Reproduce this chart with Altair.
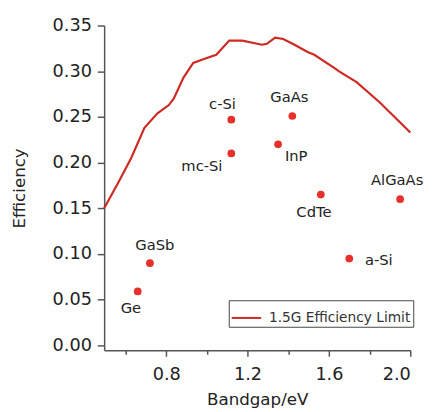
import altair as alt
import pandas as pd

# 1.5G efficiency limit curve
curve_bandgap = [0.495, 0.564, 0.628, 0.693, 0.757, 0.813, 0.837, 0.885, 0.933, 0.982,
                 1.046, 1.110, 1.174, 1.271, 1.295, 1.335, 1.375, 1.431, 1.495, 1.528,
                 1.624, 1.648, 1.736, 1.849, 2.000]
curve_eff = [0.150, 0.178, 0.205, 0.238, 0.254, 0.263, 0.270, 0.293, 0.309, 0.313,
             0.318, 0.3335, 0.3335, 0.329, 0.330, 0.3368, 0.3353, 0.329, 0.321, 0.318,
             0.304, 0.300, 0.288, 0.266, 0.233]
series_name = "1.5G Efficiency Limit"

# materials
materials = ["Ge", "GaSb", "c-Si", "mc-Si", "GaAs", "InP", "CdTe", "a-Si", "AlGaAs"]
mat_bandgap = [0.66, 0.72, 1.12, 1.12, 1.42, 1.35, 1.56, 1.70, 1.95]
mat_eff = [0.059, 0.090, 0.247, 0.210, 0.251, 0.220, 0.165, 0.095, 0.160]

y_ticks = [0.00, 0.05, 0.10, 0.15, 0.20, 0.25, 0.30, 0.35]
x_major = [0.8, 1.2, 1.6, 2.0]
x_minor = [0.6, 1.0, 1.4, 1.8]

curve_df = pd.DataFrame({"Bandgap": curve_bandgap, "Efficiency": curve_eff,
                         "series": series_name})
mat_df = pd.DataFrame({"Bandgap": mat_bandgap, "Efficiency": mat_eff,
                       "Material": materials})

FONT = "DejaVu Sans"
AXIS_C = "#555555"
LINE_C = "#cc2a22"
DOT_C = "#e8302a"

x_dom = [0.495, 2.0]
y_dom = [-0.0054, 0.35]
xs = alt.Scale(domain=x_dom, nice=False, zero=False)
ys = alt.Scale(domain=y_dom, nice=False, zero=False)

x_axis = alt.Axis(values=x_major, format=".1f", title="Bandgap/eV", grid=False,
                  tickSize=6, labelPadding=10, titlePadding=8, orient="bottom")
y_axis = alt.Axis(values=y_ticks, format=".2f", title="Efficiency", grid=False,
                  tickSize=7, labelPadding=6, titlePadding=24)

line = alt.Chart(curve_df).mark_line(strokeWidth=2.2).encode(
    x=alt.X("Bandgap:Q", scale=xs, axis=x_axis),
    y=alt.Y("Efficiency:Q", scale=ys, axis=y_axis),
    color=alt.Color("series:N", scale=alt.Scale(range=[LINE_C]),
                    legend=alt.Legend(title=None, orient="none", legendX=127, legendY=280,
                                      symbolType="stroke", symbolSize=900,
                                      symbolStrokeWidth=2, labelFontSize=14,
                                      labelFont=FONT, labelColor="#333333",
                                      labelOffset=7, padding=2,
                                      strokeColor="#444444", fillColor="white",
                                      cornerRadius=0)),
)

minor = alt.Chart(mat_df).mark_point(opacity=0).encode(
    x=alt.X("Bandgap:Q", scale=xs,
            axis=alt.Axis(values=x_minor, labels=False, domain=False, title=None,
                          grid=False, tickSize=4, orient="bottom")),
    y=alt.Y("Efficiency:Q", scale=ys),
)

dots = alt.Chart(mat_df).mark_circle(size=62, color=DOT_C, opacity=1).encode(
    x=alt.X("Bandgap:Q", scale=xs),
    y=alt.Y("Efficiency:Q", scale=ys),
)

# label placement (style only)
label_style = {
    "Ge": ("center", -7, 17),
    "GaSb": ("center", 5, -18),
    "c-Si": ("center", -9, -16),
    "mc-Si": ("right", -9, 13),
    "GaAs": ("center", -3, -19),
    "InP": ("left", 7, 12),
    "CdTe": ("center", -7, 18),
    "AlGaAs": ("center", -3, -19),
    "a-Si": ("left", 16, 2),
}

labels = []
for name in materials:
    al, dx, dy = label_style[name]
    labels.append(
        alt.Chart(mat_df).transform_filter(alt.datum.Material == name)
        .mark_text(align=al, baseline="middle", dx=dx, dy=dy, fontSize=15,
                   font=FONT, color="#222222")
        .encode(
            x=alt.X("Bandgap:Q", scale=xs),
            y=alt.Y("Efficiency:Q", scale=ys),
            text="Material:N",
        )
    )

base = alt.layer(line, dots, *labels)
chart = alt.layer(base, minor).resolve_scale(x="independent").properties(
    width=312, height=331,
    autosize=alt.AutoSizeParams(type="none"),
    padding={"left": 98, "top": 14, "right": 16, "bottom": 59},
).configure_view(stroke=None).configure_axis(
    labelFont=FONT, titleFont=FONT, labelFontSize=18, titleFontSize=17,
    labelColor="#222222", titleColor="#222222", titleFontWeight="normal",
    domainColor=AXIS_C, tickColor=AXIS_C, domainWidth=1.5, tickWidth=1.5,
)

chart.save("out.html", embed_options={"renderer": "svg", "actions": False})
